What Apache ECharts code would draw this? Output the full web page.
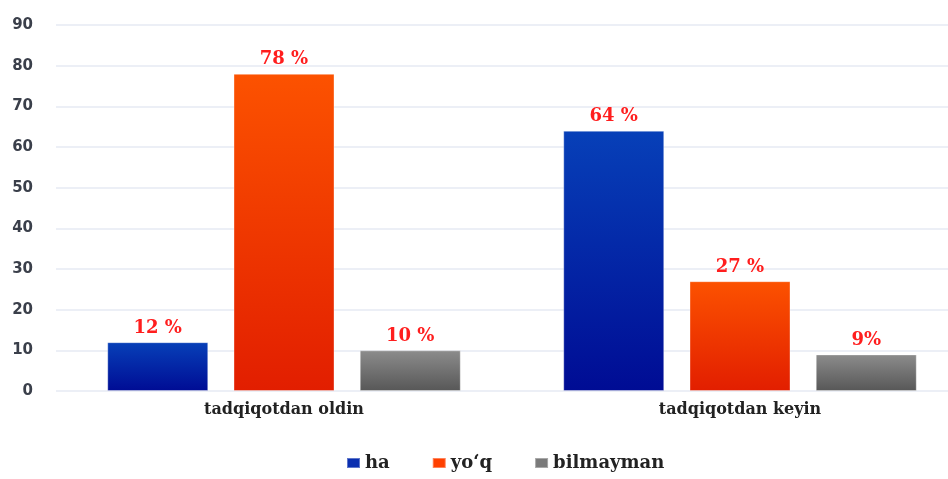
<!DOCTYPE html>
<html>
<head>
<meta charset="utf-8">
<script src="https://cdn.jsdelivr.net/npm/echarts@6/dist/echarts.min.js"></script>
<style>
    html, body { margin: 0; padding: 0; background: #fff; }
    #chart { width: 948px; height: 479px; }
</style>
</head>
<body>
<div id="chart"></div>
<script>
var categories = ['tadqiqotdan oldin', 'tadqiqotdan keyin'];
var seriesNames = ['ha', 'yo‘q', 'bilmayman'];
var haValues = [12, 64];
var yoqValues = [78, 27];
var bilmaymanValues = [10, 9];
var haLabels = ['12 %', '64 %'];
var yoqLabels = ['78 %', '27 %'];
var bilmaymanLabels = ['10 %', '9%'];
var yTicks = [0, 10, 20, 30, 40, 50, 60, 70, 80, 90];

// gradients top -> bottom
function grad(top, bottom) {
    return new echarts.graphic.LinearGradient(0, 0, 0, 1, [
        { offset: 0, color: top },
        { offset: 1, color: bottom }
    ]);
}

function makeSeries(name, values, labels, top, bottom) {
    return {
        name: name,
        type: 'bar',
        barWidth: 101,
        barGap: '25%',
        data: values.map(function (v, i) {
            return { value: v, labelText: labels[i] };
        }),
        itemStyle: {
            color: grad(top, bottom),
            borderColor: 'rgba(255,255,255,0.35)',
            borderWidth: 1
        },
        label: {
            show: true,
            position: 'top',
            distance: 5,
            color: '#ff1e1e',
            fontFamily: 'DejaVu Serif',
            fontWeight: 'bold',
            fontSize: 18,
            formatter: function (p) { return p.data.labelText; }
        },
        emphasis: { disabled: true }
    };
}

var chart = echarts.init(document.getElementById('chart'));

var option = {
    animation: false,
    legend: {
        bottom: 2,
        left: 341,
        itemWidth: 13,
        itemHeight: 10,
        itemGap: 42,
        icon: 'rect',
        textStyle: {
            fontFamily: 'DejaVu Serif',
            fontWeight: 'bold',
            fontSize: 18,
            color: '#222'
        },
        data: [
            { name: seriesNames[0], itemStyle: { color: '#0a2fb0' } },
            { name: seriesNames[1], itemStyle: { color: '#ff4000' } },
            { name: seriesNames[2], itemStyle: { color: '#7a7a7a' } }
        ]
    },
    grid: {
        left: 56,
        top: 25,
        width: 912,
        bottom: 88,
        outerBoundsMode: 'none',
        containLabel: false
    },
    xAxis: {
        type: 'category',
        data: categories,
        axisLine: { show: false },
        axisTick: { show: false },
        axisLabel: {
            margin: 11,
            fontFamily: 'DejaVu Serif',
            fontWeight: 'bold',
            fontSize: 16,
            color: '#222'
        }
    },
    yAxis: {
        type: 'value',
        min: yTicks[0],
        max: yTicks[yTicks.length - 1],
        interval: 10,
        axisLine: { show: false },
        axisTick: { show: false },
        axisLabel: {
            margin: 23,
            fontFamily: 'DejaVu Sans',
            fontWeight: 'bold',
            fontSize: 15,
            color: '#3a3f4a'
        },
        splitLine: { lineStyle: { color: '#eceff6', width: 2 } }
    },
    series: [
        makeSeries(seriesNames[0], haValues, haLabels, '#0740b8', '#000c94'),
        makeSeries(seriesNames[1], yoqValues, yoqLabels, '#fc5200', '#e21e00'),
        makeSeries(seriesNames[2], bilmaymanValues, bilmaymanLabels, '#8c8c8c', '#575757')
    ]
};

chart.setOption(option);
</script>
</body>
</html>
